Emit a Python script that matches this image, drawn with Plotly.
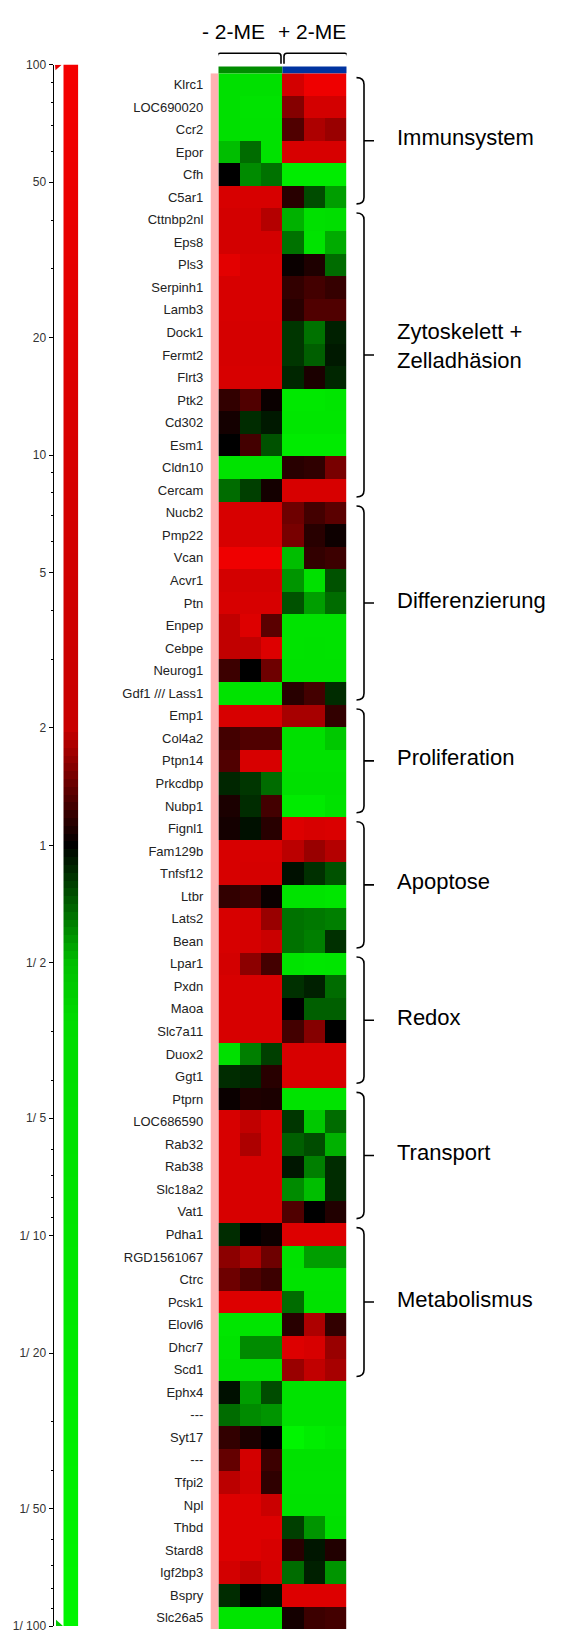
"""Heatmap of regulated genes (- 2-ME / + 2-ME) with log fold-change scale and functional groups."""

import numpy as np
import plotly.graph_objects as go

W, H = 561, 1636

genes = [
    "Klrc1", "LOC690020", "Ccr2", "Epor", "Cfh", "C5ar1",
    "Cttnbp2nl", "Eps8", "Pls3", "Serpinh1", "Lamb3", "Dock1", "Fermt2", "Flrt3",
    "Ptk2", "Cd302", "Esm1", "Cldn10", "Cercam",
    "Nucb2", "Pmp22", "Vcan", "Acvr1", "Ptn", "Enpep", "Cebpe", "Neurog1", "Gdf1 /// Lass1",
    "Emp1", "Col4a2", "Ptpn14", "Prkcdbp", "Nubp1",
    "Fignl1", "Fam129b", "Tnfsf12", "Ltbr", "Lats2", "Bean",
    "Lpar1", "Pxdn", "Maoa", "Slc7a11", "Duox2", "Ggt1",
    "Ptprn", "LOC686590", "Rab32", "Rab38", "Slc18a2", "Vat1",
    "Pdha1", "RGD1561067", "Ctrc", "Pcsk1", "Elovl6", "Dhcr7", "Scd1",
    "Ephx4", "---", "Syt17", "---", "Tfpi2", "Npl", "Thbd", "Stard8", "Igf2bp3",
    "Bspry", "Slc26a5",
]

# log10 fold change, three replicates per condition
minus_2me = [
    [-0.7, -0.7, -0.7], [-0.7, -0.9, -0.9], [-0.7, -0.8, -0.8], [-0.3, -0.17, -0.8],
    [0.0, -0.22, -0.18], [1.0, 1.0, 1.0], [0.8, 0.8, 0.27], [0.8, 0.8, 0.8],
    [1.4, 1.0, 1.0], [1.0, 1.0, 1.0], [1.0, 1.0, 1.0], [0.9, 0.9, 0.9],
    [0.9, 0.9, 0.9], [1.0, 1.0, 1.0], [0.075, 0.12, 0.015], [0.03, -0.07, -0.04],
    [0.0, 0.1, -0.13], [-0.9, -0.9, -0.9], [-0.17, -0.1, 0.03], [1.0, 1.0, 1.0],
    [1.0, 1.0, 1.0], [1.8, 1.8, 1.8], [0.8, 0.8, 0.8], [1.0, 1.0, 1.0],
    [0.29, 1.2, 0.135], [0.29, 0.29, 1.2], [0.09, 0.0, 0.165], [-0.9, -0.9, -0.9],
    [1.0, 1.0, 1.0], [0.1, 0.12, 0.12], [0.12, 1.0, 1.0], [-0.06, -0.085, -0.17],
    [0.04, -0.07, 0.1], [0.03, -0.025, 0.06], [1.0, 1.0, 1.0], [1.0, 0.9, 0.9],
    [0.075, 0.09, 0.015], [1.0, 0.9, 0.23], [1.0, 0.9, 0.4], [0.8, 0.21, 0.1],
    [1.0, 1.0, 1.0], [1.0, 1.0, 1.0], [1.0, 1.0, 1.0], [-0.7, -0.2, -0.1],
    [-0.07, -0.06, 0.06], [0.015, 0.045, 0.04], [1.0, 0.29, 1.0], [1.0, 0.26, 1.0],
    [1.0, 1.0, 1.0], [1.0, 1.0, 1.0], [1.0, 1.0, 1.0], [-0.07, 0.0, 0.02],
    [0.21, 0.26, 0.165], [0.165, 0.12, 0.09], [1.2, 1.2, 1.2], [-1.1, -1.0, -1.0],
    [-0.9, -0.22, -0.22], [-0.7, -0.7, -0.7], [-0.025, -0.25, -0.12], [-0.17, -0.22, -0.235],
    [0.075, 0.04, 0.0], [0.15, 0.8, 0.09], [0.28, 0.7, 0.07], [1.2, 1.2, 0.4],
    [1.2, 1.2, 1.2], [1.2, 1.2, 1.0], [0.8, 0.29, 0.9], [-0.07, 0.0, -0.025],
    [-1.0, -1.0, -1.0],
]

plus_2me = [
    [0.8, 1.8, 1.8], [0.2, 0.8, 0.8], [0.12, 0.26, 0.23], [1.0, 1.0, 1.0],
    [-1.5, -1.5, -1.5], [0.06, -0.12, -0.25], [-0.28, -0.7, -0.6], [-0.18, -0.9, -0.27],
    [0.015, 0.045, -0.17], [0.075, 0.1, 0.08], [0.06, 0.12, 0.12], [-0.085, -0.18, -0.05],
    [-0.085, -0.15, -0.04], [-0.06, 0.04, -0.06], [-1.2, -1.2, -1.0], [-1.1, -1.1, -1.1],
    [-1.4, -1.4, -1.4], [0.06, 0.07, 0.18], [1.0, 1.0, 1.0], [0.165, 0.1, 0.135],
    [0.18, 0.06, 0.02], [-0.3, 0.075, 0.09], [-0.235, -0.7, -0.13], [-0.13, -0.25, -0.17],
    [-0.9, -0.9, -0.9], [-0.9, -0.8, -0.9], [-0.8, -0.8, -0.8], [0.06, 0.1, -0.07],
    [0.25, 0.25, 0.075], [-0.7, -0.7, -0.35], [-0.8, -0.8, -0.8], [-0.7, -0.7, -0.7],
    [-1.4, -1.4, -0.8], [1.2, 1.0, 1.1], [0.28, 0.23, 0.27], [-0.025, -0.075, -0.13],
    [-0.9, -0.9, -1.1], [-0.18, -0.19, -0.2], [-0.18, -0.2, -0.075], [-0.9, -1.1, -1.0],
    [-0.075, -0.05, -0.17], [0.0, -0.15, -0.15], [0.1, 0.2, 0.0], [1.0, 1.0, 1.0],
    [1.0, 1.0, 1.0], [-0.9, -0.9, -0.9], [-0.085, -0.35, -0.17], [-0.15, -0.12, -0.28],
    [-0.035, -0.2, -0.07], [-0.22, -0.3, -0.07], [0.12, 0.0, 0.05], [1.2, 1.2, 1.2],
    [-0.8, -0.25, -0.25], [-0.9, -0.9, -0.9], [-0.17, -0.8, -0.8], [0.06, 0.26, 0.075],
    [1.2, 1.0, 0.23], [0.23, 0.29, 0.25], [-0.9, -0.9, -0.9], [-0.9, -0.9, -0.9],
    [-2.0, -1.5, -1.2], [-0.8, -0.8, -0.8], [-0.9, -0.9, -0.9], [-0.8, -0.8, -0.8],
    [-0.1, -0.235, -0.7], [0.06, -0.035, 0.05], [-0.17, -0.05, -0.235], [1.2, 1.2, 1.2],
    [0.03, 0.09, 0.1],
]

conditions = ["- 2-ME", "+ 2-ME"]
condition_cols = [(0, 2), (3, 5)]
condition_colors = ["rgb(0,140,0)", "rgb(0,51,160)"]

group_names = [
    "Immunsystem", "Zytoskelett +<br>Zelladhäsion", "Differenzierung", "Proliferation",
    "Apoptose", "Redox", "Transport", "Metabolismus",
]
group_first = [0, 6, 19, 28, 33, 39, 45, 51]
group_last = [5, 18, 27, 32, 38, 44, 50, 57]

scale_ticks = [100, 50, 20, 10, 5, 2, 1, 1 / 2, 1 / 5, 1 / 10, 1 / 20, 1 / 50, 1 / 100]
scale_labels = ["100", "50", "20", "10", "5", "2", "1", "1/ 2", "1/ 5", "1/ 10", "1/ 20", "1/ 50", "1/ 100"]
scale_minor = [90, 80, 70, 60, 40, 30, 9, 8, 7, 6, 4, 3,
               1 / 3, 1 / 4, 1 / 6, 1 / 7, 1 / 8, 1 / 9,
               1 / 30, 1 / 40, 1 / 60, 1 / 70, 1 / 80, 1 / 90]

assert len(genes) == len(minus_2me) == len(plus_2me)

# red / black / green scale over log10(ratio) in [-2, 2]
colorscale = [
    [0.0, "rgb(0,245,0)"],
    [0.3875, "rgb(0,220,0)"],
    [0.425, "rgb(0,190,0)"],
    [0.5, "rgb(0,0,0)"],
    [0.575, "rgb(200,0,0)"],
    [0.75, "rgb(215,0,0)"],
    [1.0, "rgb(245,0,0)"],
]


def px(x):
    return x / W


def py(y):
    return 1 - y / H


FONT = "Liberation Sans, Arial, sans-serif"
z = [m + p for m, p in zip(minus_2me, plus_2me)]
rows = list(range(len(genes)))

fig = go.Figure()

fig.add_trace(
    go.Heatmap(
        z=z,
        x=list(range(6)),
        y=rows,
        zmin=-2,
        zmax=2,
        colorscale=colorscale,
        showscale=False,
        hoverinfo="skip",
    )
)

# colour scale bar (legend gradient)
levels = np.linspace(-2, 2, 201)
fig.add_trace(
    go.Heatmap(
        z=[[v] for v in levels],
        x=[0],
        y=levels,
        zmin=-2,
        zmax=2,
        colorscale=colorscale,
        showscale=False,
        hoverinfo="skip",
        xaxis="x2",
        yaxis="y2",
    )
)

shapes = []

# pink stripe at the left of the heatmap
shapes.append(dict(type="rect", xref="paper", yref="y", x0=px(210.7), x1=px(218.3),
                   y0=-0.5, y1=len(genes) - 0.5, fillcolor="rgb(255,178,178)", line_width=0))

# condition bars and brackets
yt, yb = py(46.7), py(57.3)
rx, ry = 0.14, 3 / H
for (c0, c1), col in zip(condition_cols, condition_colors):
    shapes.append(dict(type="rect", xref="x", yref="paper", x0=c0 - 0.5, x1=c1 + 0.5,
                       y0=py(66.7), y1=py(60), fillcolor=col, line_width=0))
    x0 = 2.5 + (c0 - 0.5 - 2.5) * 1.04 + 0.07
    x1 = 2.5 + (c1 + 0.5 - 2.5) * 1.04 - 0.07
    path = (f"M {x0},{yb} L {x0},{yt - ry} Q {x0},{yt} {x0 + rx},{yt} "
            f"L {x1 - rx},{yt} Q {x1},{yt} {x1},{yt - ry} L {x1},{yb}")
    shapes.append(dict(type="path", xref="x", yref="paper", path=path,
                       line=dict(color="black", width=1.6)))

# group braces on the right
xl, xh, xt = px(364), px(356.5), px(374)
annotations = []
for name, g0, g1 in zip(group_names, group_first, group_last):
    top = g0 - 0.5 + 0.2
    bot = g1 + 0.5 - 0.2
    mid = (g0 + g1) / 2
    path = (f"M {xh},{top} Q {xl},{top} {xl},{top + 0.3} L {xl},{bot - 0.3} "
            f"Q {xl},{bot} {xh},{bot} M {xl},{mid} L {xt},{mid}")
    shapes.append(dict(type="path", xref="paper", yref="y", path=path,
                       line=dict(color="black", width=1.6)))
    annotations.append(dict(x=px(395), y=mid, xref="paper", yref="y", text=name,
                            xanchor="left", yanchor="middle", align="left", showarrow=False,
                            yshift=9 if "<br>" in name else 3,
                            font=dict(size=22, color="black", family=FONT)))

# end markers of the scale bar
shapes.append(dict(type="path", xref="paper", yref="y2",
                   path=f"M {px(55)},2 L {px(61.7)},2 L {px(55.5)},1.986 Z",
                   fillcolor="rgb(230,0,0)", line_width=0))
shapes.append(dict(type="path", xref="paper", yref="y2",
                   path=f"M {px(56)},-1.984 L {px(56)},-2 L {px(63)},-2 Z",
                   fillcolor="rgb(0,200,0)", line_width=0))

for label, cx in zip(conditions, [233, 311.5]):
    annotations.append(dict(x=px(cx), y=py(25), xref="paper", yref="paper", text=label,
                            xanchor="center", yanchor="middle", showarrow=False,
                            font=dict(size=21, color="black", family=FONT)))

fig.update_layout(
    width=W,
    height=H,
    margin=dict(l=0, r=0, t=0, b=0),
    paper_bgcolor="white",
    plot_bgcolor="white",
    font=dict(family=FONT, color="#222"),
    showlegend=False,
    xaxis=dict(domain=[px(218.3), px(346.7)], range=[-0.5, 5.5], visible=False),
    yaxis=dict(
        domain=[0, py(66.7)],
        range=[len(genes) - 0.5, -0.5],
        tickvals=rows,
        ticktext=genes,
        ticks="",
        showgrid=False,
        zeroline=False,
        showline=False,
        ticklabelstandoff=14,
        ticklabeloverflow="allow",
        tickfont=dict(size=13, color="#222", family=FONT),
    ),
    xaxis2=dict(domain=[px(63.3), px(78.3)], range=[-0.5, 0.5], visible=False, anchor="y2"),
    yaxis2=dict(
        domain=[py(1633), py(58.3)],
        range=[-2, 2],
        anchor="free",
        position=px(52.5),
        tickvals=[float(np.log10(v)) for v in scale_ticks],
        ticktext=scale_labels,
        ticks="outside",
        ticklen=4,
        tickcolor="black",
        showline=True,
        linecolor="black",
        linewidth=1,
        showgrid=False,
        zeroline=False,
        ticklabeloverflow="allow",
        tickfont=dict(size=12, color="#333", family=FONT),
        minor=dict(tickvals=[float(np.log10(v)) for v in scale_minor], ticks="outside",
                   ticklen=2, tickcolor="black", showgrid=False),
    ),
    shapes=shapes,
    annotations=annotations,
)

fig.write_html("out.html", config={"displayModeBar": False},
               post_script="document.body.style.margin = '0';")
